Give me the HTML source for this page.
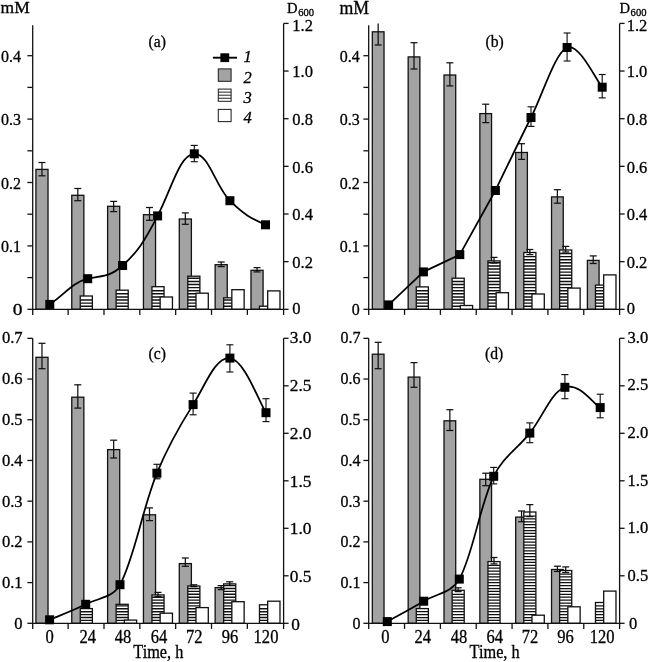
<!DOCTYPE html>
<html><head><meta charset="utf-8"><title>Figure</title>
<style>
html,body{margin:0;padding:0;background:#fff;}
body{width:649px;height:662px;overflow:hidden;}
svg{display:block;will-change:transform;}
svg text{font-family:"Liberation Serif", serif;fill:#000;stroke:#000;stroke-width:0.3px;}
</style></head><body>
<svg width="649" height="662" viewBox="0 0 649 662">
<rect width="649" height="662" fill="#fff"/>
<rect x="35.92" y="169.40" width="12.10" height="139.90" fill="#a3a3a3" stroke="#111" stroke-width="1.3"/>
<rect x="71.76" y="195.30" width="12.10" height="114.00" fill="#a3a3a3" stroke="#111" stroke-width="1.3"/>
<rect x="107.61" y="206.30" width="12.10" height="103.00" fill="#a3a3a3" stroke="#111" stroke-width="1.3"/>
<rect x="143.45" y="214.70" width="12.10" height="94.60" fill="#a3a3a3" stroke="#111" stroke-width="1.3"/>
<rect x="179.29" y="219.00" width="12.10" height="90.30" fill="#a3a3a3" stroke="#111" stroke-width="1.3"/>
<rect x="215.14" y="264.70" width="12.10" height="44.60" fill="#a3a3a3" stroke="#111" stroke-width="1.3"/>
<rect x="250.98" y="270.30" width="12.10" height="39.00" fill="#a3a3a3" stroke="#111" stroke-width="1.3"/>
<rect x="80.26" y="296.00" width="12.10" height="13.30" fill="#fff"/>
<path d="M80.26,306.20h12.10M80.26,303.10h12.10M80.26,300.00h12.10" stroke="#111" stroke-width="1.45" fill="none"/>
<rect x="80.26" y="296.00" width="12.10" height="13.30" fill="none" stroke="#111" stroke-width="1.3"/>
<rect x="116.11" y="290.20" width="12.10" height="19.10" fill="#fff"/>
<path d="M116.11,306.20h12.10M116.11,303.10h12.10M116.11,300.00h12.10M116.11,296.90h12.10M116.11,293.80h12.10" stroke="#111" stroke-width="1.45" fill="none"/>
<rect x="116.11" y="290.20" width="12.10" height="19.10" fill="none" stroke="#111" stroke-width="1.3"/>
<rect x="151.95" y="286.70" width="12.10" height="22.60" fill="#fff"/>
<path d="M151.95,306.20h12.10M151.95,303.10h12.10M151.95,300.00h12.10M151.95,296.90h12.10M151.95,293.80h12.10M151.95,290.70h12.10" stroke="#111" stroke-width="1.45" fill="none"/>
<rect x="151.95" y="286.70" width="12.10" height="22.60" fill="none" stroke="#111" stroke-width="1.3"/>
<rect x="187.79" y="276.20" width="12.10" height="33.10" fill="#fff"/>
<path d="M187.79,306.20h12.10M187.79,303.10h12.10M187.79,300.00h12.10M187.79,296.90h12.10M187.79,293.80h12.10M187.79,290.70h12.10M187.79,287.60h12.10M187.79,284.50h12.10M187.79,281.40h12.10M187.79,278.30h12.10" stroke="#111" stroke-width="1.45" fill="none"/>
<rect x="187.79" y="276.20" width="12.10" height="33.10" fill="none" stroke="#111" stroke-width="1.3"/>
<rect x="223.64" y="297.80" width="12.10" height="11.50" fill="#fff"/>
<path d="M223.64,306.20h12.10M223.64,303.10h12.10M223.64,300.00h12.10" stroke="#111" stroke-width="1.45" fill="none"/>
<rect x="223.64" y="297.80" width="12.10" height="11.50" fill="none" stroke="#111" stroke-width="1.3"/>
<rect x="259.48" y="306.20" width="12.10" height="3.10" fill="#fff"/>
<rect x="259.48" y="306.20" width="12.10" height="3.10" fill="none" stroke="#111" stroke-width="1.3"/>
<rect x="160.15" y="297.00" width="12.30" height="12.30" fill="#fff" stroke="#111" stroke-width="1.3"/>
<rect x="195.99" y="293.20" width="12.30" height="16.10" fill="#fff" stroke="#111" stroke-width="1.3"/>
<rect x="231.84" y="289.70" width="12.30" height="19.60" fill="#fff" stroke="#111" stroke-width="1.3"/>
<rect x="267.68" y="290.90" width="12.30" height="18.40" fill="#fff" stroke="#111" stroke-width="1.3"/>
<line x1="41.97" y1="162.50" x2="41.97" y2="175.80" stroke="#111" stroke-width="1.25"/>
<line x1="38.47" y1="162.50" x2="45.47" y2="162.50" stroke="#111" stroke-width="1.25"/>
<line x1="38.47" y1="175.80" x2="45.47" y2="175.80" stroke="#111" stroke-width="1.25"/>
<line x1="77.81" y1="188.50" x2="77.81" y2="200.70" stroke="#111" stroke-width="1.25"/>
<line x1="74.31" y1="188.50" x2="81.31" y2="188.50" stroke="#111" stroke-width="1.25"/>
<line x1="74.31" y1="200.70" x2="81.31" y2="200.70" stroke="#111" stroke-width="1.25"/>
<line x1="113.66" y1="201.40" x2="113.66" y2="211.60" stroke="#111" stroke-width="1.25"/>
<line x1="110.16" y1="201.40" x2="117.16" y2="201.40" stroke="#111" stroke-width="1.25"/>
<line x1="110.16" y1="211.60" x2="117.16" y2="211.60" stroke="#111" stroke-width="1.25"/>
<line x1="149.50" y1="207.50" x2="149.50" y2="220.30" stroke="#111" stroke-width="1.25"/>
<line x1="146.00" y1="207.50" x2="153.00" y2="207.50" stroke="#111" stroke-width="1.25"/>
<line x1="146.00" y1="220.30" x2="153.00" y2="220.30" stroke="#111" stroke-width="1.25"/>
<line x1="185.34" y1="212.90" x2="185.34" y2="224.30" stroke="#111" stroke-width="1.25"/>
<line x1="181.84" y1="212.90" x2="188.84" y2="212.90" stroke="#111" stroke-width="1.25"/>
<line x1="181.84" y1="224.30" x2="188.84" y2="224.30" stroke="#111" stroke-width="1.25"/>
<line x1="221.19" y1="262.00" x2="221.19" y2="266.60" stroke="#111" stroke-width="1.25"/>
<line x1="217.69" y1="262.00" x2="224.69" y2="262.00" stroke="#111" stroke-width="1.25"/>
<line x1="217.69" y1="266.60" x2="224.69" y2="266.60" stroke="#111" stroke-width="1.25"/>
<line x1="257.03" y1="267.60" x2="257.03" y2="271.90" stroke="#111" stroke-width="1.25"/>
<line x1="253.53" y1="267.60" x2="260.53" y2="267.60" stroke="#111" stroke-width="1.25"/>
<line x1="253.53" y1="271.90" x2="260.53" y2="271.90" stroke="#111" stroke-width="1.25"/>
<line x1="32.70" y1="25.30" x2="32.70" y2="314.90" stroke="#111" stroke-width="1.3"/>
<line x1="283.60" y1="23.40" x2="283.60" y2="314.90" stroke="#111" stroke-width="1.3"/>
<line x1="32.70" y1="309.30" x2="283.60" y2="309.30" stroke="#111" stroke-width="1.3"/>
<line x1="68.14" y1="309.30" x2="68.14" y2="314.90" stroke="#111" stroke-width="1.3"/>
<line x1="103.99" y1="309.30" x2="103.99" y2="314.90" stroke="#111" stroke-width="1.3"/>
<line x1="139.83" y1="309.30" x2="139.83" y2="314.90" stroke="#111" stroke-width="1.3"/>
<line x1="175.67" y1="309.30" x2="175.67" y2="314.90" stroke="#111" stroke-width="1.3"/>
<line x1="211.51" y1="309.30" x2="211.51" y2="314.90" stroke="#111" stroke-width="1.3"/>
<line x1="247.36" y1="309.30" x2="247.36" y2="314.90" stroke="#111" stroke-width="1.3"/>
<line x1="27.40" y1="309.30" x2="32.70" y2="309.30" stroke="#111" stroke-width="1.3"/>
<text transform="translate(22.40,314.70) scale(1.18,1)" font-size="16.5" text-anchor="end" >0</text>
<line x1="27.40" y1="277.60" x2="32.70" y2="277.60" stroke="#111" stroke-width="1.3"/>
<line x1="27.40" y1="245.90" x2="32.70" y2="245.90" stroke="#111" stroke-width="1.3"/>
<text transform="translate(21.00,251.90) scale(0.97,1)" font-size="16.5" text-anchor="end" >0.1</text>
<line x1="27.40" y1="214.20" x2="32.70" y2="214.20" stroke="#111" stroke-width="1.3"/>
<line x1="27.40" y1="182.50" x2="32.70" y2="182.50" stroke="#111" stroke-width="1.3"/>
<text transform="translate(21.00,188.50) scale(0.97,1)" font-size="16.5" text-anchor="end" >0.2</text>
<line x1="27.40" y1="150.80" x2="32.70" y2="150.80" stroke="#111" stroke-width="1.3"/>
<line x1="27.40" y1="119.10" x2="32.70" y2="119.10" stroke="#111" stroke-width="1.3"/>
<text transform="translate(21.00,125.10) scale(0.97,1)" font-size="16.5" text-anchor="end" >0.3</text>
<line x1="27.40" y1="87.40" x2="32.70" y2="87.40" stroke="#111" stroke-width="1.3"/>
<line x1="27.40" y1="55.70" x2="32.70" y2="55.70" stroke="#111" stroke-width="1.3"/>
<text transform="translate(21.00,61.70) scale(0.97,1)" font-size="16.5" text-anchor="end" >0.4</text>
<line x1="283.60" y1="309.30" x2="288.60" y2="309.30" stroke="#111" stroke-width="1.3"/>
<text transform="translate(292.30,314.20) scale(1.0,1)" font-size="16.5" text-anchor="start" >0</text>
<line x1="283.60" y1="261.65" x2="288.60" y2="261.65" stroke="#111" stroke-width="1.3"/>
<text transform="translate(292.30,267.95) scale(1.0,1)" font-size="16.5" text-anchor="start" >0.2</text>
<line x1="283.60" y1="214.00" x2="288.60" y2="214.00" stroke="#111" stroke-width="1.3"/>
<text transform="translate(292.30,220.30) scale(1.0,1)" font-size="16.5" text-anchor="start" >0.4</text>
<line x1="283.60" y1="166.35" x2="288.60" y2="166.35" stroke="#111" stroke-width="1.3"/>
<text transform="translate(292.30,172.65) scale(1.0,1)" font-size="16.5" text-anchor="start" >0.6</text>
<line x1="283.60" y1="118.70" x2="288.60" y2="118.70" stroke="#111" stroke-width="1.3"/>
<text transform="translate(292.30,125.00) scale(1.0,1)" font-size="16.5" text-anchor="start" >0.8</text>
<line x1="283.60" y1="71.05" x2="288.60" y2="71.05" stroke="#111" stroke-width="1.3"/>
<text transform="translate(292.30,77.35) scale(1.0,1)" font-size="16.5" text-anchor="start" >1.0</text>
<line x1="283.60" y1="23.40" x2="288.60" y2="23.40" stroke="#111" stroke-width="1.3"/>
<text transform="translate(292.30,30.80) scale(1.0,1)" font-size="16.5" text-anchor="start" >1.2</text>
<path d="M49.80,304.40 C64.96,294.09 72.54,282.49 87.70,278.70 C101.66,275.21 108.64,278.06 122.60,265.50 C136.60,252.90 143.60,243.20 157.60,215.90 C172.28,187.27 179.62,154.68 194.30,153.80 C208.54,152.95 215.66,186.46 229.90,200.70 C244.14,214.94 251.26,218.39 265.50,224.80" fill="none" stroke="#000" stroke-width="1.75" stroke-linejoin="round"/>
<line x1="194.30" y1="145.40" x2="194.30" y2="161.70" stroke="#111" stroke-width="1.15"/>
<line x1="190.80" y1="145.40" x2="197.80" y2="145.40" stroke="#111" stroke-width="1.15"/>
<line x1="190.80" y1="161.70" x2="197.80" y2="161.70" stroke="#111" stroke-width="1.15"/>
<rect x="45.30" y="299.90" width="9" height="9" fill="#000"/>
<rect x="83.20" y="274.20" width="9" height="9" fill="#000"/>
<rect x="118.10" y="261.00" width="9" height="9" fill="#000"/>
<rect x="153.10" y="211.40" width="9" height="9" fill="#000"/>
<rect x="189.80" y="149.30" width="9" height="9" fill="#000"/>
<rect x="225.40" y="196.20" width="9" height="9" fill="#000"/>
<rect x="261.00" y="220.30" width="9" height="9" fill="#000"/>
<text transform="translate(148.50,47.00) scale(0.95,1)" font-size="16.5" text-anchor="start" >(a)</text>
<rect x="372.32" y="31.80" width="11.70" height="277.50" fill="#a3a3a3" stroke="#111" stroke-width="1.3"/>
<rect x="408.16" y="56.90" width="11.70" height="252.40" fill="#a3a3a3" stroke="#111" stroke-width="1.3"/>
<rect x="444.01" y="75.00" width="11.70" height="234.30" fill="#a3a3a3" stroke="#111" stroke-width="1.3"/>
<rect x="479.85" y="113.60" width="11.70" height="195.70" fill="#a3a3a3" stroke="#111" stroke-width="1.3"/>
<rect x="515.69" y="152.50" width="11.70" height="156.80" fill="#a3a3a3" stroke="#111" stroke-width="1.3"/>
<rect x="551.54" y="196.90" width="11.70" height="112.40" fill="#a3a3a3" stroke="#111" stroke-width="1.3"/>
<rect x="587.38" y="260.40" width="11.70" height="48.90" fill="#a3a3a3" stroke="#111" stroke-width="1.3"/>
<rect x="416.26" y="286.90" width="12.10" height="22.40" fill="#fff"/>
<path d="M416.26,306.20h12.10M416.26,303.10h12.10M416.26,300.00h12.10M416.26,296.90h12.10M416.26,293.80h12.10M416.26,290.70h12.10" stroke="#111" stroke-width="1.45" fill="none"/>
<rect x="416.26" y="286.90" width="12.10" height="22.40" fill="none" stroke="#111" stroke-width="1.3"/>
<rect x="452.11" y="278.20" width="12.10" height="31.10" fill="#fff"/>
<path d="M452.11,306.20h12.10M452.11,303.10h12.10M452.11,300.00h12.10M452.11,296.90h12.10M452.11,293.80h12.10M452.11,290.70h12.10M452.11,287.60h12.10M452.11,284.50h12.10M452.11,281.40h12.10" stroke="#111" stroke-width="1.45" fill="none"/>
<rect x="452.11" y="278.20" width="12.10" height="31.10" fill="none" stroke="#111" stroke-width="1.3"/>
<rect x="487.95" y="260.90" width="12.10" height="48.40" fill="#fff"/>
<path d="M487.95,306.20h12.10M487.95,303.10h12.10M487.95,300.00h12.10M487.95,296.90h12.10M487.95,293.80h12.10M487.95,290.70h12.10M487.95,287.60h12.10M487.95,284.50h12.10M487.95,281.40h12.10M487.95,278.30h12.10M487.95,275.20h12.10M487.95,272.10h12.10M487.95,269.00h12.10M487.95,265.90h12.10M487.95,262.80h12.10" stroke="#111" stroke-width="1.45" fill="none"/>
<rect x="487.95" y="260.90" width="12.10" height="48.40" fill="none" stroke="#111" stroke-width="1.3"/>
<rect x="523.79" y="252.50" width="12.10" height="56.80" fill="#fff"/>
<path d="M523.79,306.20h12.10M523.79,303.10h12.10M523.79,300.00h12.10M523.79,296.90h12.10M523.79,293.80h12.10M523.79,290.70h12.10M523.79,287.60h12.10M523.79,284.50h12.10M523.79,281.40h12.10M523.79,278.30h12.10M523.79,275.20h12.10M523.79,272.10h12.10M523.79,269.00h12.10M523.79,265.90h12.10M523.79,262.80h12.10M523.79,259.70h12.10M523.79,256.60h12.10" stroke="#111" stroke-width="1.45" fill="none"/>
<rect x="523.79" y="252.50" width="12.10" height="56.80" fill="none" stroke="#111" stroke-width="1.3"/>
<rect x="559.64" y="250.00" width="12.10" height="59.30" fill="#fff"/>
<path d="M559.64,306.20h12.10M559.64,303.10h12.10M559.64,300.00h12.10M559.64,296.90h12.10M559.64,293.80h12.10M559.64,290.70h12.10M559.64,287.60h12.10M559.64,284.50h12.10M559.64,281.40h12.10M559.64,278.30h12.10M559.64,275.20h12.10M559.64,272.10h12.10M559.64,269.00h12.10M559.64,265.90h12.10M559.64,262.80h12.10M559.64,259.70h12.10M559.64,256.60h12.10M559.64,253.50h12.10" stroke="#111" stroke-width="1.45" fill="none"/>
<rect x="559.64" y="250.00" width="12.10" height="59.30" fill="none" stroke="#111" stroke-width="1.3"/>
<rect x="595.48" y="285.10" width="12.10" height="24.20" fill="#fff"/>
<path d="M595.48,306.20h12.10M595.48,303.10h12.10M595.48,300.00h12.10M595.48,296.90h12.10M595.48,293.80h12.10M595.48,290.70h12.10M595.48,287.60h12.10" stroke="#111" stroke-width="1.45" fill="none"/>
<rect x="595.48" y="285.10" width="12.10" height="24.20" fill="none" stroke="#111" stroke-width="1.3"/>
<rect x="460.31" y="305.50" width="12.30" height="3.80" fill="#fff" stroke="#111" stroke-width="1.3"/>
<rect x="496.15" y="292.70" width="12.30" height="16.60" fill="#fff" stroke="#111" stroke-width="1.3"/>
<rect x="531.99" y="294.00" width="12.30" height="15.30" fill="#fff" stroke="#111" stroke-width="1.3"/>
<rect x="567.84" y="288.10" width="12.30" height="21.20" fill="#fff" stroke="#111" stroke-width="1.3"/>
<rect x="603.68" y="274.90" width="12.30" height="34.40" fill="#fff" stroke="#111" stroke-width="1.3"/>
<line x1="378.17" y1="23.40" x2="378.17" y2="45.00" stroke="#111" stroke-width="1.25"/>
<line x1="374.67" y1="45.00" x2="381.67" y2="45.00" stroke="#111" stroke-width="1.25"/>
<line x1="414.01" y1="42.70" x2="414.01" y2="69.00" stroke="#111" stroke-width="1.25"/>
<line x1="410.51" y1="42.70" x2="417.51" y2="42.70" stroke="#111" stroke-width="1.25"/>
<line x1="410.51" y1="69.00" x2="417.51" y2="69.00" stroke="#111" stroke-width="1.25"/>
<line x1="449.86" y1="62.80" x2="449.86" y2="85.90" stroke="#111" stroke-width="1.25"/>
<line x1="446.36" y1="62.80" x2="453.36" y2="62.80" stroke="#111" stroke-width="1.25"/>
<line x1="446.36" y1="85.90" x2="453.36" y2="85.90" stroke="#111" stroke-width="1.25"/>
<line x1="485.70" y1="104.20" x2="485.70" y2="122.60" stroke="#111" stroke-width="1.25"/>
<line x1="482.20" y1="104.20" x2="489.20" y2="104.20" stroke="#111" stroke-width="1.25"/>
<line x1="482.20" y1="122.60" x2="489.20" y2="122.60" stroke="#111" stroke-width="1.25"/>
<line x1="494.00" y1="257.40" x2="494.00" y2="263.00" stroke="#111" stroke-width="1.25"/>
<line x1="490.50" y1="257.40" x2="497.50" y2="257.40" stroke="#111" stroke-width="1.25"/>
<line x1="490.50" y1="263.00" x2="497.50" y2="263.00" stroke="#111" stroke-width="1.25"/>
<line x1="521.54" y1="143.70" x2="521.54" y2="159.40" stroke="#111" stroke-width="1.25"/>
<line x1="518.04" y1="143.70" x2="525.04" y2="143.70" stroke="#111" stroke-width="1.25"/>
<line x1="518.04" y1="159.40" x2="525.04" y2="159.40" stroke="#111" stroke-width="1.25"/>
<line x1="529.84" y1="249.50" x2="529.84" y2="254.60" stroke="#111" stroke-width="1.25"/>
<line x1="526.34" y1="249.50" x2="533.34" y2="249.50" stroke="#111" stroke-width="1.25"/>
<line x1="526.34" y1="254.60" x2="533.34" y2="254.60" stroke="#111" stroke-width="1.25"/>
<line x1="557.39" y1="189.70" x2="557.39" y2="203.20" stroke="#111" stroke-width="1.25"/>
<line x1="553.89" y1="189.70" x2="560.89" y2="189.70" stroke="#111" stroke-width="1.25"/>
<line x1="553.89" y1="203.20" x2="560.89" y2="203.20" stroke="#111" stroke-width="1.25"/>
<line x1="565.69" y1="246.40" x2="565.69" y2="252.00" stroke="#111" stroke-width="1.25"/>
<line x1="562.19" y1="246.40" x2="569.19" y2="246.40" stroke="#111" stroke-width="1.25"/>
<line x1="562.19" y1="252.00" x2="569.19" y2="252.00" stroke="#111" stroke-width="1.25"/>
<line x1="593.23" y1="255.90" x2="593.23" y2="263.50" stroke="#111" stroke-width="1.25"/>
<line x1="589.73" y1="255.90" x2="596.73" y2="255.90" stroke="#111" stroke-width="1.25"/>
<line x1="589.73" y1="263.50" x2="596.73" y2="263.50" stroke="#111" stroke-width="1.25"/>
<line x1="368.70" y1="25.30" x2="368.70" y2="314.90" stroke="#111" stroke-width="1.3"/>
<line x1="619.60" y1="23.40" x2="619.60" y2="314.90" stroke="#111" stroke-width="1.3"/>
<line x1="368.70" y1="309.30" x2="619.60" y2="309.30" stroke="#111" stroke-width="1.3"/>
<line x1="404.54" y1="309.30" x2="404.54" y2="314.90" stroke="#111" stroke-width="1.3"/>
<line x1="440.39" y1="309.30" x2="440.39" y2="314.90" stroke="#111" stroke-width="1.3"/>
<line x1="476.23" y1="309.30" x2="476.23" y2="314.90" stroke="#111" stroke-width="1.3"/>
<line x1="512.07" y1="309.30" x2="512.07" y2="314.90" stroke="#111" stroke-width="1.3"/>
<line x1="547.91" y1="309.30" x2="547.91" y2="314.90" stroke="#111" stroke-width="1.3"/>
<line x1="583.76" y1="309.30" x2="583.76" y2="314.90" stroke="#111" stroke-width="1.3"/>
<line x1="363.40" y1="309.30" x2="368.70" y2="309.30" stroke="#111" stroke-width="1.3"/>
<text transform="translate(359.80,315.30) scale(0.97,1)" font-size="16.5" text-anchor="end" >0</text>
<line x1="363.40" y1="277.60" x2="368.70" y2="277.60" stroke="#111" stroke-width="1.3"/>
<line x1="363.40" y1="245.90" x2="368.70" y2="245.90" stroke="#111" stroke-width="1.3"/>
<text transform="translate(359.80,251.90) scale(0.97,1)" font-size="16.5" text-anchor="end" >0.1</text>
<line x1="363.40" y1="214.20" x2="368.70" y2="214.20" stroke="#111" stroke-width="1.3"/>
<line x1="363.40" y1="182.50" x2="368.70" y2="182.50" stroke="#111" stroke-width="1.3"/>
<text transform="translate(359.80,188.50) scale(0.97,1)" font-size="16.5" text-anchor="end" >0.2</text>
<line x1="363.40" y1="150.80" x2="368.70" y2="150.80" stroke="#111" stroke-width="1.3"/>
<line x1="363.40" y1="119.10" x2="368.70" y2="119.10" stroke="#111" stroke-width="1.3"/>
<text transform="translate(359.80,125.10) scale(0.97,1)" font-size="16.5" text-anchor="end" >0.3</text>
<line x1="363.40" y1="87.40" x2="368.70" y2="87.40" stroke="#111" stroke-width="1.3"/>
<line x1="363.40" y1="55.70" x2="368.70" y2="55.70" stroke="#111" stroke-width="1.3"/>
<text transform="translate(359.80,61.70) scale(0.97,1)" font-size="16.5" text-anchor="end" >0.4</text>
<line x1="619.60" y1="309.30" x2="624.60" y2="309.30" stroke="#111" stroke-width="1.3"/>
<text transform="translate(626.70,314.20) scale(1.0,1)" font-size="16.5" text-anchor="start" >0</text>
<line x1="619.60" y1="261.65" x2="624.60" y2="261.65" stroke="#111" stroke-width="1.3"/>
<text transform="translate(626.70,267.95) scale(1.0,1)" font-size="16.5" text-anchor="start" >0.2</text>
<line x1="619.60" y1="214.00" x2="624.60" y2="214.00" stroke="#111" stroke-width="1.3"/>
<text transform="translate(626.70,220.30) scale(1.0,1)" font-size="16.5" text-anchor="start" >0.4</text>
<line x1="619.60" y1="166.35" x2="624.60" y2="166.35" stroke="#111" stroke-width="1.3"/>
<text transform="translate(626.70,172.65) scale(1.0,1)" font-size="16.5" text-anchor="start" >0.6</text>
<line x1="619.60" y1="118.70" x2="624.60" y2="118.70" stroke="#111" stroke-width="1.3"/>
<text transform="translate(626.70,125.00) scale(1.0,1)" font-size="16.5" text-anchor="start" >0.8</text>
<line x1="619.60" y1="71.05" x2="624.60" y2="71.05" stroke="#111" stroke-width="1.3"/>
<text transform="translate(626.70,77.35) scale(1.0,1)" font-size="16.5" text-anchor="start" >1.0</text>
<line x1="619.60" y1="23.40" x2="624.60" y2="23.40" stroke="#111" stroke-width="1.3"/>
<text transform="translate(626.70,30.80) scale(1.0,1)" font-size="16.5" text-anchor="start" >1.2</text>
<path d="M388.60,304.90 L423.40,271.90 L459.80,254.60 L495.40,190.50 C501.33,178.33 519.05,141.33 531.00,117.50 C542.95,93.67 555.23,52.55 567.10,47.50 C578.97,42.45 596.35,80.58 602.20,87.20" fill="none" stroke="#000" stroke-width="1.75" stroke-linejoin="round"/>
<line x1="531.00" y1="106.80" x2="531.00" y2="126.40" stroke="#111" stroke-width="1.15"/>
<line x1="527.50" y1="106.80" x2="534.50" y2="106.80" stroke="#111" stroke-width="1.15"/>
<line x1="527.50" y1="126.40" x2="534.50" y2="126.40" stroke="#111" stroke-width="1.15"/>
<line x1="567.10" y1="33.00" x2="567.10" y2="61.00" stroke="#111" stroke-width="1.15"/>
<line x1="563.60" y1="33.00" x2="570.60" y2="33.00" stroke="#111" stroke-width="1.15"/>
<line x1="563.60" y1="61.00" x2="570.60" y2="61.00" stroke="#111" stroke-width="1.15"/>
<line x1="602.20" y1="74.50" x2="602.20" y2="97.90" stroke="#111" stroke-width="1.15"/>
<line x1="598.70" y1="74.50" x2="605.70" y2="74.50" stroke="#111" stroke-width="1.15"/>
<line x1="598.70" y1="97.90" x2="605.70" y2="97.90" stroke="#111" stroke-width="1.15"/>
<rect x="384.10" y="300.40" width="9" height="9" fill="#000"/>
<rect x="418.90" y="267.40" width="9" height="9" fill="#000"/>
<rect x="455.30" y="250.10" width="9" height="9" fill="#000"/>
<rect x="490.90" y="186.00" width="9" height="9" fill="#000"/>
<rect x="526.50" y="113.00" width="9" height="9" fill="#000"/>
<rect x="562.60" y="43.00" width="9" height="9" fill="#000"/>
<rect x="597.70" y="82.70" width="9" height="9" fill="#000"/>
<text transform="translate(485.50,47.00) scale(0.95,1)" font-size="16.5" text-anchor="start" >(b)</text>
<rect x="35.92" y="357.30" width="12.10" height="266.00" fill="#a3a3a3" stroke="#111" stroke-width="1.3"/>
<rect x="71.76" y="397.20" width="12.10" height="226.10" fill="#a3a3a3" stroke="#111" stroke-width="1.3"/>
<rect x="107.61" y="449.60" width="12.10" height="173.70" fill="#a3a3a3" stroke="#111" stroke-width="1.3"/>
<rect x="143.45" y="514.80" width="12.10" height="108.50" fill="#a3a3a3" stroke="#111" stroke-width="1.3"/>
<rect x="179.29" y="563.60" width="12.10" height="59.70" fill="#a3a3a3" stroke="#111" stroke-width="1.3"/>
<rect x="215.14" y="587.60" width="12.10" height="35.70" fill="#a3a3a3" stroke="#111" stroke-width="1.3"/>
<rect x="80.26" y="608.60" width="12.10" height="14.70" fill="#fff"/>
<path d="M80.26,620.40h12.10M80.26,617.50h12.10M80.26,614.60h12.10M80.26,611.70h12.10" stroke="#111" stroke-width="1.4" fill="none"/>
<rect x="80.26" y="608.60" width="12.10" height="14.70" fill="none" stroke="#111" stroke-width="1.3"/>
<rect x="116.11" y="604.30" width="12.10" height="19.00" fill="#fff"/>
<path d="M116.11,620.40h12.10M116.11,617.50h12.10M116.11,614.60h12.10M116.11,611.70h12.10M116.11,608.80h12.10M116.11,605.90h12.10" stroke="#111" stroke-width="1.4" fill="none"/>
<rect x="116.11" y="604.30" width="12.10" height="19.00" fill="none" stroke="#111" stroke-width="1.3"/>
<rect x="151.95" y="594.90" width="12.10" height="28.40" fill="#fff"/>
<path d="M151.95,620.40h12.10M151.95,617.50h12.10M151.95,614.60h12.10M151.95,611.70h12.10M151.95,608.80h12.10M151.95,605.90h12.10M151.95,603.00h12.10M151.95,600.10h12.10M151.95,597.20h12.10" stroke="#111" stroke-width="1.4" fill="none"/>
<rect x="151.95" y="594.90" width="12.10" height="28.40" fill="none" stroke="#111" stroke-width="1.3"/>
<rect x="187.79" y="586.00" width="12.10" height="37.30" fill="#fff"/>
<path d="M187.79,620.40h12.10M187.79,617.50h12.10M187.79,614.60h12.10M187.79,611.70h12.10M187.79,608.80h12.10M187.79,605.90h12.10M187.79,603.00h12.10M187.79,600.10h12.10M187.79,597.20h12.10M187.79,594.30h12.10M187.79,591.40h12.10M187.79,588.50h12.10" stroke="#111" stroke-width="1.4" fill="none"/>
<rect x="187.79" y="586.00" width="12.10" height="37.30" fill="none" stroke="#111" stroke-width="1.3"/>
<rect x="223.64" y="583.90" width="12.10" height="39.40" fill="#fff"/>
<path d="M223.64,620.40h12.10M223.64,617.50h12.10M223.64,614.60h12.10M223.64,611.70h12.10M223.64,608.80h12.10M223.64,605.90h12.10M223.64,603.00h12.10M223.64,600.10h12.10M223.64,597.20h12.10M223.64,594.30h12.10M223.64,591.40h12.10M223.64,588.50h12.10M223.64,585.60h12.10" stroke="#111" stroke-width="1.4" fill="none"/>
<rect x="223.64" y="583.90" width="12.10" height="39.40" fill="none" stroke="#111" stroke-width="1.3"/>
<rect x="259.48" y="604.80" width="12.10" height="18.50" fill="#fff"/>
<path d="M259.48,620.40h12.10M259.48,617.50h12.10M259.48,614.60h12.10M259.48,611.70h12.10M259.48,608.80h12.10" stroke="#111" stroke-width="1.4" fill="none"/>
<rect x="259.48" y="604.80" width="12.10" height="18.50" fill="none" stroke="#111" stroke-width="1.3"/>
<rect x="124.31" y="620.10" width="12.30" height="3.20" fill="#fff" stroke="#111" stroke-width="1.3"/>
<rect x="160.15" y="613.20" width="12.30" height="10.10" fill="#fff" stroke="#111" stroke-width="1.3"/>
<rect x="195.99" y="607.60" width="12.30" height="15.70" fill="#fff" stroke="#111" stroke-width="1.3"/>
<rect x="231.84" y="601.70" width="12.30" height="21.60" fill="#fff" stroke="#111" stroke-width="1.3"/>
<rect x="267.68" y="601.20" width="12.30" height="22.10" fill="#fff" stroke="#111" stroke-width="1.3"/>
<line x1="41.97" y1="343.30" x2="41.97" y2="368.70" stroke="#111" stroke-width="1.25"/>
<line x1="38.47" y1="343.30" x2="45.47" y2="343.30" stroke="#111" stroke-width="1.25"/>
<line x1="38.47" y1="368.70" x2="45.47" y2="368.70" stroke="#111" stroke-width="1.25"/>
<line x1="77.81" y1="384.80" x2="77.81" y2="408.10" stroke="#111" stroke-width="1.25"/>
<line x1="74.31" y1="384.80" x2="81.31" y2="384.80" stroke="#111" stroke-width="1.25"/>
<line x1="74.31" y1="408.10" x2="81.31" y2="408.10" stroke="#111" stroke-width="1.25"/>
<line x1="113.66" y1="440.20" x2="113.66" y2="458.00" stroke="#111" stroke-width="1.25"/>
<line x1="110.16" y1="440.20" x2="117.16" y2="440.20" stroke="#111" stroke-width="1.25"/>
<line x1="110.16" y1="458.00" x2="117.16" y2="458.00" stroke="#111" stroke-width="1.25"/>
<line x1="149.50" y1="507.90" x2="149.50" y2="520.60" stroke="#111" stroke-width="1.25"/>
<line x1="146.00" y1="507.90" x2="153.00" y2="507.90" stroke="#111" stroke-width="1.25"/>
<line x1="146.00" y1="520.60" x2="153.00" y2="520.60" stroke="#111" stroke-width="1.25"/>
<line x1="158.00" y1="592.40" x2="158.00" y2="596.40" stroke="#111" stroke-width="1.25"/>
<line x1="154.50" y1="592.40" x2="161.50" y2="592.40" stroke="#111" stroke-width="1.25"/>
<line x1="154.50" y1="596.40" x2="161.50" y2="596.40" stroke="#111" stroke-width="1.25"/>
<line x1="185.34" y1="558.00" x2="185.34" y2="566.30" stroke="#111" stroke-width="1.25"/>
<line x1="181.84" y1="558.00" x2="188.84" y2="558.00" stroke="#111" stroke-width="1.25"/>
<line x1="181.84" y1="566.30" x2="188.84" y2="566.30" stroke="#111" stroke-width="1.25"/>
<line x1="193.84" y1="584.80" x2="193.84" y2="586.60" stroke="#111" stroke-width="1.25"/>
<line x1="190.34" y1="584.80" x2="197.34" y2="584.80" stroke="#111" stroke-width="1.25"/>
<line x1="190.34" y1="586.60" x2="197.34" y2="586.60" stroke="#111" stroke-width="1.25"/>
<line x1="221.19" y1="585.60" x2="221.19" y2="589.60" stroke="#111" stroke-width="1.25"/>
<line x1="217.69" y1="585.60" x2="224.69" y2="585.60" stroke="#111" stroke-width="1.25"/>
<line x1="217.69" y1="589.60" x2="224.69" y2="589.60" stroke="#111" stroke-width="1.25"/>
<line x1="229.69" y1="581.80" x2="229.69" y2="585.40" stroke="#111" stroke-width="1.25"/>
<line x1="226.19" y1="581.80" x2="233.19" y2="581.80" stroke="#111" stroke-width="1.25"/>
<line x1="226.19" y1="585.40" x2="233.19" y2="585.40" stroke="#111" stroke-width="1.25"/>
<line x1="32.70" y1="338.30" x2="32.70" y2="628.90" stroke="#111" stroke-width="1.3"/>
<line x1="283.60" y1="338.30" x2="283.60" y2="628.90" stroke="#111" stroke-width="1.3"/>
<line x1="32.70" y1="623.30" x2="283.60" y2="623.30" stroke="#111" stroke-width="1.3"/>
<line x1="68.14" y1="623.30" x2="68.14" y2="628.90" stroke="#111" stroke-width="1.3"/>
<line x1="103.99" y1="623.30" x2="103.99" y2="628.90" stroke="#111" stroke-width="1.3"/>
<line x1="139.83" y1="623.30" x2="139.83" y2="628.90" stroke="#111" stroke-width="1.3"/>
<line x1="175.67" y1="623.30" x2="175.67" y2="628.90" stroke="#111" stroke-width="1.3"/>
<line x1="211.51" y1="623.30" x2="211.51" y2="628.90" stroke="#111" stroke-width="1.3"/>
<line x1="247.36" y1="623.30" x2="247.36" y2="628.90" stroke="#111" stroke-width="1.3"/>
<line x1="27.40" y1="623.30" x2="32.70" y2="623.30" stroke="#111" stroke-width="1.3"/>
<text transform="translate(22.50,629.20) scale(1.0,1)" font-size="16.5" text-anchor="end" >0</text>
<line x1="27.40" y1="582.59" x2="32.70" y2="582.59" stroke="#111" stroke-width="1.3"/>
<text transform="translate(22.50,588.30) scale(1.0,1)" font-size="16.5" text-anchor="end" >0.1</text>
<line x1="27.40" y1="541.88" x2="32.70" y2="541.88" stroke="#111" stroke-width="1.3"/>
<text transform="translate(22.50,547.40) scale(1.0,1)" font-size="16.5" text-anchor="end" >0.2</text>
<line x1="27.40" y1="501.17" x2="32.70" y2="501.17" stroke="#111" stroke-width="1.3"/>
<text transform="translate(22.50,506.50) scale(1.0,1)" font-size="16.5" text-anchor="end" >0.3</text>
<line x1="27.40" y1="460.46" x2="32.70" y2="460.46" stroke="#111" stroke-width="1.3"/>
<text transform="translate(22.50,465.60) scale(1.0,1)" font-size="16.5" text-anchor="end" >0.4</text>
<line x1="27.40" y1="419.75" x2="32.70" y2="419.75" stroke="#111" stroke-width="1.3"/>
<text transform="translate(22.50,424.70) scale(1.0,1)" font-size="16.5" text-anchor="end" >0.5</text>
<line x1="27.40" y1="379.04" x2="32.70" y2="379.04" stroke="#111" stroke-width="1.3"/>
<text transform="translate(22.50,383.80) scale(1.0,1)" font-size="16.5" text-anchor="end" >0.6</text>
<line x1="27.40" y1="338.33" x2="32.70" y2="338.33" stroke="#111" stroke-width="1.3"/>
<text transform="translate(22.50,342.90) scale(1.0,1)" font-size="16.5" text-anchor="end" >0.7</text>
<line x1="283.60" y1="623.30" x2="288.60" y2="623.30" stroke="#111" stroke-width="1.3"/>
<text transform="translate(291.30,629.70) scale(1.05,1)" font-size="16.5" text-anchor="start" >0</text>
<line x1="283.60" y1="575.80" x2="288.60" y2="575.80" stroke="#111" stroke-width="1.3"/>
<text transform="translate(289.80,581.98) scale(1.05,1)" font-size="16.5" text-anchor="start" >0.5</text>
<line x1="283.60" y1="528.30" x2="288.60" y2="528.30" stroke="#111" stroke-width="1.3"/>
<text transform="translate(289.80,534.26) scale(1.05,1)" font-size="16.5" text-anchor="start" >1.0</text>
<line x1="283.60" y1="480.80" x2="288.60" y2="480.80" stroke="#111" stroke-width="1.3"/>
<text transform="translate(289.80,486.54) scale(1.05,1)" font-size="16.5" text-anchor="start" >1.5</text>
<line x1="283.60" y1="433.30" x2="288.60" y2="433.30" stroke="#111" stroke-width="1.3"/>
<text transform="translate(289.80,438.82) scale(1.05,1)" font-size="16.5" text-anchor="start" >2.0</text>
<line x1="283.60" y1="385.80" x2="288.60" y2="385.80" stroke="#111" stroke-width="1.3"/>
<text transform="translate(289.80,391.10) scale(1.05,1)" font-size="16.5" text-anchor="start" >2.5</text>
<line x1="283.60" y1="338.30" x2="288.60" y2="338.30" stroke="#111" stroke-width="1.3"/>
<text transform="translate(289.80,343.38) scale(1.05,1)" font-size="16.5" text-anchor="start" >3.0</text>
<path d="M49.60,619.80 C56.82,616.70 72.34,610.96 85.70,604.30 C99.13,597.60 112.84,597.89 120.00,584.70 C134.24,558.48 142.28,509.22 156.90,473.20 C167.99,445.89 178.50,427.62 193.10,404.60 C205.17,385.57 215.32,356.48 229.90,358.10 C244.48,359.72 258.78,401.78 266.00,412.70" fill="none" stroke="#000" stroke-width="1.75" stroke-linejoin="round"/>
<line x1="156.90" y1="464.30" x2="156.90" y2="478.80" stroke="#111" stroke-width="1.15"/>
<line x1="153.40" y1="464.30" x2="160.40" y2="464.30" stroke="#111" stroke-width="1.15"/>
<line x1="153.40" y1="478.80" x2="160.40" y2="478.80" stroke="#111" stroke-width="1.15"/>
<line x1="193.10" y1="393.10" x2="193.10" y2="414.80" stroke="#111" stroke-width="1.15"/>
<line x1="189.60" y1="393.10" x2="196.60" y2="393.10" stroke="#111" stroke-width="1.15"/>
<line x1="189.60" y1="414.80" x2="196.60" y2="414.80" stroke="#111" stroke-width="1.15"/>
<line x1="229.90" y1="344.80" x2="229.90" y2="372.00" stroke="#111" stroke-width="1.15"/>
<line x1="226.40" y1="344.80" x2="233.40" y2="344.80" stroke="#111" stroke-width="1.15"/>
<line x1="226.40" y1="372.00" x2="233.40" y2="372.00" stroke="#111" stroke-width="1.15"/>
<line x1="266.00" y1="398.70" x2="266.00" y2="421.60" stroke="#111" stroke-width="1.15"/>
<line x1="262.50" y1="398.70" x2="269.50" y2="398.70" stroke="#111" stroke-width="1.15"/>
<line x1="262.50" y1="421.60" x2="269.50" y2="421.60" stroke="#111" stroke-width="1.15"/>
<rect x="45.10" y="615.30" width="9" height="9" fill="#000"/>
<rect x="81.20" y="599.80" width="9" height="9" fill="#000"/>
<rect x="115.50" y="580.20" width="9" height="9" fill="#000"/>
<rect x="152.40" y="468.70" width="9" height="9" fill="#000"/>
<rect x="188.60" y="400.10" width="9" height="9" fill="#000"/>
<rect x="225.40" y="353.60" width="9" height="9" fill="#000"/>
<rect x="261.50" y="408.20" width="9" height="9" fill="#000"/>
<text transform="translate(148.50,359.30) scale(0.95,1)" font-size="16.5" text-anchor="start" >(c)</text>
<text transform="translate(49.60,642.90) scale(0.92,1)" font-size="18.0" text-anchor="middle" >0</text>
<text transform="translate(87.70,642.90) scale(0.92,1)" font-size="18.0" text-anchor="middle" >24</text>
<text transform="translate(122.90,642.90) scale(0.92,1)" font-size="18.0" text-anchor="middle" >48</text>
<text transform="translate(159.00,642.90) scale(0.92,1)" font-size="18.0" text-anchor="middle" >64</text>
<text transform="translate(194.30,642.90) scale(0.92,1)" font-size="18.0" text-anchor="middle" >72</text>
<text transform="translate(229.90,642.90) scale(0.92,1)" font-size="18.0" text-anchor="middle" >96</text>
<text transform="translate(266.00,642.90) scale(0.92,1)" font-size="18.0" text-anchor="middle" >120</text>
<text transform="translate(133.30,657.50) scale(0.885,1)" font-size="18.4" text-anchor="start" >Time, h</text>
<rect x="372.32" y="354.20" width="11.70" height="269.10" fill="#a3a3a3" stroke="#111" stroke-width="1.3"/>
<rect x="408.16" y="377.10" width="11.70" height="246.20" fill="#a3a3a3" stroke="#111" stroke-width="1.3"/>
<rect x="444.01" y="420.80" width="11.70" height="202.50" fill="#a3a3a3" stroke="#111" stroke-width="1.3"/>
<rect x="479.85" y="479.30" width="11.70" height="144.00" fill="#a3a3a3" stroke="#111" stroke-width="1.3"/>
<rect x="515.69" y="517.10" width="11.70" height="106.20" fill="#a3a3a3" stroke="#111" stroke-width="1.3"/>
<rect x="551.54" y="569.50" width="11.70" height="53.80" fill="#a3a3a3" stroke="#111" stroke-width="1.3"/>
<rect x="416.26" y="608.60" width="12.10" height="14.70" fill="#fff"/>
<path d="M416.26,620.40h12.10M416.26,617.50h12.10M416.26,614.60h12.10M416.26,611.70h12.10" stroke="#111" stroke-width="1.25" fill="none"/>
<rect x="416.26" y="608.60" width="12.10" height="14.70" fill="none" stroke="#111" stroke-width="1.3"/>
<rect x="452.11" y="590.30" width="12.10" height="33.00" fill="#fff"/>
<path d="M452.11,620.40h12.10M452.11,617.50h12.10M452.11,614.60h12.10M452.11,611.70h12.10M452.11,608.80h12.10M452.11,605.90h12.10M452.11,603.00h12.10M452.11,600.10h12.10M452.11,597.20h12.10M452.11,594.30h12.10" stroke="#111" stroke-width="1.25" fill="none"/>
<rect x="452.11" y="590.30" width="12.10" height="33.00" fill="none" stroke="#111" stroke-width="1.3"/>
<rect x="487.95" y="561.60" width="12.10" height="61.70" fill="#fff"/>
<path d="M487.95,620.40h12.10M487.95,617.50h12.10M487.95,614.60h12.10M487.95,611.70h12.10M487.95,608.80h12.10M487.95,605.90h12.10M487.95,603.00h12.10M487.95,600.10h12.10M487.95,597.20h12.10M487.95,594.30h12.10M487.95,591.40h12.10M487.95,588.50h12.10M487.95,585.60h12.10M487.95,582.70h12.10M487.95,579.80h12.10M487.95,576.90h12.10M487.95,574.00h12.10M487.95,571.10h12.10M487.95,568.20h12.10M487.95,565.30h12.10" stroke="#111" stroke-width="1.25" fill="none"/>
<rect x="487.95" y="561.60" width="12.10" height="61.70" fill="none" stroke="#111" stroke-width="1.3"/>
<rect x="523.79" y="512.00" width="12.10" height="111.30" fill="#fff"/>
<path d="M523.79,620.40h12.10M523.79,617.50h12.10M523.79,614.60h12.10M523.79,611.70h12.10M523.79,608.80h12.10M523.79,605.90h12.10M523.79,603.00h12.10M523.79,600.10h12.10M523.79,597.20h12.10M523.79,594.30h12.10M523.79,591.40h12.10M523.79,588.50h12.10M523.79,585.60h12.10M523.79,582.70h12.10M523.79,579.80h12.10M523.79,576.90h12.10M523.79,574.00h12.10M523.79,571.10h12.10M523.79,568.20h12.10M523.79,565.30h12.10M523.79,562.40h12.10M523.79,559.50h12.10M523.79,556.60h12.10M523.79,553.70h12.10M523.79,550.80h12.10M523.79,547.90h12.10M523.79,545.00h12.10M523.79,542.10h12.10M523.79,539.20h12.10M523.79,536.30h12.10M523.79,533.40h12.10M523.79,530.50h12.10M523.79,527.60h12.10M523.79,524.70h12.10M523.79,521.80h12.10M523.79,518.90h12.10M523.79,516.00h12.10" stroke="#111" stroke-width="1.25" fill="none"/>
<rect x="523.79" y="512.00" width="12.10" height="111.30" fill="none" stroke="#111" stroke-width="1.3"/>
<rect x="559.64" y="570.50" width="12.10" height="52.80" fill="#fff"/>
<path d="M559.64,620.40h12.10M559.64,617.50h12.10M559.64,614.60h12.10M559.64,611.70h12.10M559.64,608.80h12.10M559.64,605.90h12.10M559.64,603.00h12.10M559.64,600.10h12.10M559.64,597.20h12.10M559.64,594.30h12.10M559.64,591.40h12.10M559.64,588.50h12.10M559.64,585.60h12.10M559.64,582.70h12.10M559.64,579.80h12.10M559.64,576.90h12.10M559.64,574.00h12.10" stroke="#111" stroke-width="1.25" fill="none"/>
<rect x="559.64" y="570.50" width="12.10" height="52.80" fill="none" stroke="#111" stroke-width="1.3"/>
<rect x="595.48" y="602.50" width="12.10" height="20.80" fill="#fff"/>
<path d="M595.48,620.40h12.10M595.48,617.50h12.10M595.48,614.60h12.10M595.48,611.70h12.10M595.48,608.80h12.10M595.48,605.90h12.10" stroke="#111" stroke-width="1.25" fill="none"/>
<rect x="595.48" y="602.50" width="12.10" height="20.80" fill="none" stroke="#111" stroke-width="1.3"/>
<rect x="531.99" y="615.20" width="12.30" height="8.10" fill="#fff" stroke="#111" stroke-width="1.3"/>
<rect x="567.84" y="606.80" width="12.30" height="16.50" fill="#fff" stroke="#111" stroke-width="1.3"/>
<rect x="603.68" y="591.10" width="12.30" height="32.20" fill="#fff" stroke="#111" stroke-width="1.3"/>
<line x1="378.17" y1="342.30" x2="378.17" y2="368.70" stroke="#111" stroke-width="1.25"/>
<line x1="374.67" y1="342.30" x2="381.67" y2="342.30" stroke="#111" stroke-width="1.25"/>
<line x1="374.67" y1="368.70" x2="381.67" y2="368.70" stroke="#111" stroke-width="1.25"/>
<line x1="414.01" y1="362.60" x2="414.01" y2="387.30" stroke="#111" stroke-width="1.25"/>
<line x1="410.51" y1="362.60" x2="417.51" y2="362.60" stroke="#111" stroke-width="1.25"/>
<line x1="410.51" y1="387.30" x2="417.51" y2="387.30" stroke="#111" stroke-width="1.25"/>
<line x1="449.86" y1="409.70" x2="449.86" y2="430.50" stroke="#111" stroke-width="1.25"/>
<line x1="446.36" y1="409.70" x2="453.36" y2="409.70" stroke="#111" stroke-width="1.25"/>
<line x1="446.36" y1="430.50" x2="453.36" y2="430.50" stroke="#111" stroke-width="1.25"/>
<line x1="458.16" y1="587.80" x2="458.16" y2="591.60" stroke="#111" stroke-width="1.25"/>
<line x1="454.66" y1="587.80" x2="461.66" y2="587.80" stroke="#111" stroke-width="1.25"/>
<line x1="454.66" y1="591.60" x2="461.66" y2="591.60" stroke="#111" stroke-width="1.25"/>
<line x1="485.70" y1="473.20" x2="485.70" y2="485.70" stroke="#111" stroke-width="1.25"/>
<line x1="482.20" y1="473.20" x2="489.20" y2="473.20" stroke="#111" stroke-width="1.25"/>
<line x1="482.20" y1="485.70" x2="489.20" y2="485.70" stroke="#111" stroke-width="1.25"/>
<line x1="494.00" y1="557.50" x2="494.00" y2="563.90" stroke="#111" stroke-width="1.25"/>
<line x1="490.50" y1="557.50" x2="497.50" y2="557.50" stroke="#111" stroke-width="1.25"/>
<line x1="490.50" y1="563.90" x2="497.50" y2="563.90" stroke="#111" stroke-width="1.25"/>
<line x1="521.54" y1="511.00" x2="521.54" y2="521.70" stroke="#111" stroke-width="1.25"/>
<line x1="518.04" y1="511.00" x2="525.04" y2="511.00" stroke="#111" stroke-width="1.25"/>
<line x1="518.04" y1="521.70" x2="525.04" y2="521.70" stroke="#111" stroke-width="1.25"/>
<line x1="529.84" y1="504.60" x2="529.84" y2="516.60" stroke="#111" stroke-width="1.25"/>
<line x1="526.34" y1="504.60" x2="533.34" y2="504.60" stroke="#111" stroke-width="1.25"/>
<line x1="526.34" y1="516.60" x2="533.34" y2="516.60" stroke="#111" stroke-width="1.25"/>
<line x1="557.39" y1="566.20" x2="557.39" y2="571.50" stroke="#111" stroke-width="1.25"/>
<line x1="553.89" y1="566.20" x2="560.89" y2="566.20" stroke="#111" stroke-width="1.25"/>
<line x1="553.89" y1="571.50" x2="560.89" y2="571.50" stroke="#111" stroke-width="1.25"/>
<line x1="565.69" y1="566.90" x2="565.69" y2="572.50" stroke="#111" stroke-width="1.25"/>
<line x1="562.19" y1="566.90" x2="569.19" y2="566.90" stroke="#111" stroke-width="1.25"/>
<line x1="562.19" y1="572.50" x2="569.19" y2="572.50" stroke="#111" stroke-width="1.25"/>
<line x1="368.70" y1="338.30" x2="368.70" y2="628.90" stroke="#111" stroke-width="1.3"/>
<line x1="619.60" y1="338.30" x2="619.60" y2="628.90" stroke="#111" stroke-width="1.3"/>
<line x1="368.70" y1="623.30" x2="619.60" y2="623.30" stroke="#111" stroke-width="1.3"/>
<line x1="404.54" y1="623.30" x2="404.54" y2="628.90" stroke="#111" stroke-width="1.3"/>
<line x1="440.39" y1="623.30" x2="440.39" y2="628.90" stroke="#111" stroke-width="1.3"/>
<line x1="476.23" y1="623.30" x2="476.23" y2="628.90" stroke="#111" stroke-width="1.3"/>
<line x1="512.07" y1="623.30" x2="512.07" y2="628.90" stroke="#111" stroke-width="1.3"/>
<line x1="547.91" y1="623.30" x2="547.91" y2="628.90" stroke="#111" stroke-width="1.3"/>
<line x1="583.76" y1="623.30" x2="583.76" y2="628.90" stroke="#111" stroke-width="1.3"/>
<line x1="363.40" y1="623.30" x2="368.70" y2="623.30" stroke="#111" stroke-width="1.3"/>
<text transform="translate(360.50,629.20) scale(0.97,1)" font-size="16.5" text-anchor="end" >0</text>
<line x1="363.40" y1="582.59" x2="368.70" y2="582.59" stroke="#111" stroke-width="1.3"/>
<text transform="translate(360.50,588.30) scale(0.97,1)" font-size="16.5" text-anchor="end" >0.1</text>
<line x1="363.40" y1="541.88" x2="368.70" y2="541.88" stroke="#111" stroke-width="1.3"/>
<text transform="translate(360.50,547.40) scale(0.97,1)" font-size="16.5" text-anchor="end" >0.2</text>
<line x1="363.40" y1="501.17" x2="368.70" y2="501.17" stroke="#111" stroke-width="1.3"/>
<text transform="translate(360.50,506.50) scale(0.97,1)" font-size="16.5" text-anchor="end" >0.3</text>
<line x1="363.40" y1="460.46" x2="368.70" y2="460.46" stroke="#111" stroke-width="1.3"/>
<text transform="translate(360.50,465.60) scale(0.97,1)" font-size="16.5" text-anchor="end" >0.4</text>
<line x1="363.40" y1="419.75" x2="368.70" y2="419.75" stroke="#111" stroke-width="1.3"/>
<text transform="translate(360.50,424.70) scale(0.97,1)" font-size="16.5" text-anchor="end" >0.5</text>
<line x1="363.40" y1="379.04" x2="368.70" y2="379.04" stroke="#111" stroke-width="1.3"/>
<text transform="translate(360.50,383.80) scale(0.97,1)" font-size="16.5" text-anchor="end" >0.6</text>
<line x1="363.40" y1="338.33" x2="368.70" y2="338.33" stroke="#111" stroke-width="1.3"/>
<text transform="translate(360.50,342.90) scale(0.97,1)" font-size="16.5" text-anchor="end" >0.7</text>
<line x1="619.60" y1="623.30" x2="624.60" y2="623.30" stroke="#111" stroke-width="1.3"/>
<text transform="translate(629.00,628.90) scale(1.0,1)" font-size="16.5" text-anchor="start" >0</text>
<line x1="619.60" y1="575.80" x2="624.60" y2="575.80" stroke="#111" stroke-width="1.3"/>
<text transform="translate(627.50,581.18) scale(1.0,1)" font-size="16.5" text-anchor="start" >0.5</text>
<line x1="619.60" y1="528.30" x2="624.60" y2="528.30" stroke="#111" stroke-width="1.3"/>
<text transform="translate(627.50,533.46) scale(1.0,1)" font-size="16.5" text-anchor="start" >1.0</text>
<line x1="619.60" y1="480.80" x2="624.60" y2="480.80" stroke="#111" stroke-width="1.3"/>
<text transform="translate(627.50,485.74) scale(1.0,1)" font-size="16.5" text-anchor="start" >1.5</text>
<line x1="619.60" y1="433.30" x2="624.60" y2="433.30" stroke="#111" stroke-width="1.3"/>
<text transform="translate(627.50,438.02) scale(1.0,1)" font-size="16.5" text-anchor="start" >2.0</text>
<line x1="619.60" y1="385.80" x2="624.60" y2="385.80" stroke="#111" stroke-width="1.3"/>
<text transform="translate(627.50,390.30) scale(1.0,1)" font-size="16.5" text-anchor="start" >2.5</text>
<line x1="619.60" y1="338.30" x2="624.60" y2="338.30" stroke="#111" stroke-width="1.3"/>
<text transform="translate(627.50,342.58) scale(1.0,1)" font-size="16.5" text-anchor="start" >3.0</text>
<path d="M387.30,621.60 C394.58,617.52 410.05,609.26 423.70,601.20 C437.41,593.11 451.52,592.99 459.30,579.10 C473.30,554.12 479.60,505.50 493.70,476.30 C503.00,457.04 516.44,449.81 529.80,433.10 C543.50,415.98 550.82,392.40 564.90,387.30 C578.98,382.20 593.14,403.54 600.20,407.60" fill="none" stroke="#000" stroke-width="1.75" stroke-linejoin="round"/>
<line x1="493.70" y1="467.40" x2="493.70" y2="483.90" stroke="#111" stroke-width="1.15"/>
<line x1="490.20" y1="467.40" x2="497.20" y2="467.40" stroke="#111" stroke-width="1.15"/>
<line x1="490.20" y1="483.90" x2="497.20" y2="483.90" stroke="#111" stroke-width="1.15"/>
<line x1="529.80" y1="422.90" x2="529.80" y2="442.70" stroke="#111" stroke-width="1.15"/>
<line x1="526.30" y1="422.90" x2="533.30" y2="422.90" stroke="#111" stroke-width="1.15"/>
<line x1="526.30" y1="442.70" x2="533.30" y2="442.70" stroke="#111" stroke-width="1.15"/>
<line x1="564.90" y1="374.60" x2="564.90" y2="398.70" stroke="#111" stroke-width="1.15"/>
<line x1="561.40" y1="374.60" x2="568.40" y2="374.60" stroke="#111" stroke-width="1.15"/>
<line x1="561.40" y1="398.70" x2="568.40" y2="398.70" stroke="#111" stroke-width="1.15"/>
<line x1="600.20" y1="394.20" x2="600.20" y2="417.80" stroke="#111" stroke-width="1.15"/>
<line x1="596.70" y1="394.20" x2="603.70" y2="394.20" stroke="#111" stroke-width="1.15"/>
<line x1="596.70" y1="417.80" x2="603.70" y2="417.80" stroke="#111" stroke-width="1.15"/>
<rect x="382.80" y="617.10" width="9" height="9" fill="#000"/>
<rect x="419.20" y="596.70" width="9" height="9" fill="#000"/>
<rect x="454.80" y="574.60" width="9" height="9" fill="#000"/>
<rect x="489.20" y="471.80" width="9" height="9" fill="#000"/>
<rect x="525.30" y="428.60" width="9" height="9" fill="#000"/>
<rect x="560.40" y="382.80" width="9" height="9" fill="#000"/>
<rect x="595.70" y="403.10" width="9" height="9" fill="#000"/>
<text transform="translate(485.00,359.30) scale(0.95,1)" font-size="16.5" text-anchor="start" >(d)</text>
<text transform="translate(385.40,642.90) scale(0.92,1)" font-size="18.0" text-anchor="middle" >0</text>
<text transform="translate(422.80,642.90) scale(0.92,1)" font-size="18.0" text-anchor="middle" >24</text>
<text transform="translate(458.90,642.90) scale(0.92,1)" font-size="18.0" text-anchor="middle" >48</text>
<text transform="translate(494.80,642.90) scale(0.92,1)" font-size="18.0" text-anchor="middle" >64</text>
<text transform="translate(530.00,642.90) scale(0.92,1)" font-size="18.0" text-anchor="middle" >72</text>
<text transform="translate(565.60,642.90) scale(0.92,1)" font-size="18.0" text-anchor="middle" >96</text>
<text transform="translate(602.20,642.90) scale(0.92,1)" font-size="18.0" text-anchor="middle" >120</text>
<text transform="translate(469.60,657.50) scale(0.885,1)" font-size="18.4" text-anchor="start" >Time, h</text>
<text transform="translate(0.60,12.80) scale(1.0,1)" font-size="17.5" text-anchor="start" >mM</text>
<text transform="translate(339.40,13.50) scale(1.0,1)" font-size="17.8" text-anchor="start" >mM</text>
<text transform="translate(287.10,13.00) scale(1.0,1)" font-size="14.6" text-anchor="start" >D</text>
<text transform="translate(298.20,15.80) scale(0.98,1)" font-size="10.8" text-anchor="start" >600</text>
<text transform="translate(619.40,13.10) scale(1.0,1)" font-size="14.6" text-anchor="start" >D</text>
<text transform="translate(630.60,15.80) scale(0.98,1)" font-size="10.8" text-anchor="start" >600</text>
<line x1="212.90" y1="57.70" x2="237.00" y2="57.70" stroke="#000" stroke-width="1.9"/>
<rect x="220.4" y="53.3" width="8.8" height="8.8" fill="#000"/>
<rect x="218.3" y="68.9" width="12.8" height="12.4" fill="#a3a3a3" stroke="#222" stroke-width="1.05"/>
<rect x="218.3" y="89.1" width="12.8" height="12.2" fill="#fff" stroke="#222" stroke-width="1.05"/>
<line x1="218.30" y1="92.15" x2="231.10" y2="92.15" stroke="#222" stroke-width="1.0"/>
<line x1="218.30" y1="95.20" x2="231.10" y2="95.20" stroke="#222" stroke-width="1.0"/>
<line x1="218.30" y1="98.25" x2="231.10" y2="98.25" stroke="#222" stroke-width="1.0"/>
<rect x="218.3" y="109.4" width="12.8" height="12.2" fill="#fff" stroke="#222" stroke-width="1.05"/>
<text transform="translate(243.50,61.80) scale(1.0,1)" font-size="16.5" text-anchor="start" font-style="italic">1</text>
<text transform="translate(243.50,82.60) scale(1.0,1)" font-size="16.5" text-anchor="start" font-style="italic">2</text>
<text transform="translate(243.50,102.50) scale(1.0,1)" font-size="16.5" text-anchor="start" font-style="italic">3</text>
<text transform="translate(243.50,122.80) scale(1.0,1)" font-size="16.5" text-anchor="start" font-style="italic">4</text>
</svg>
</body></html>
